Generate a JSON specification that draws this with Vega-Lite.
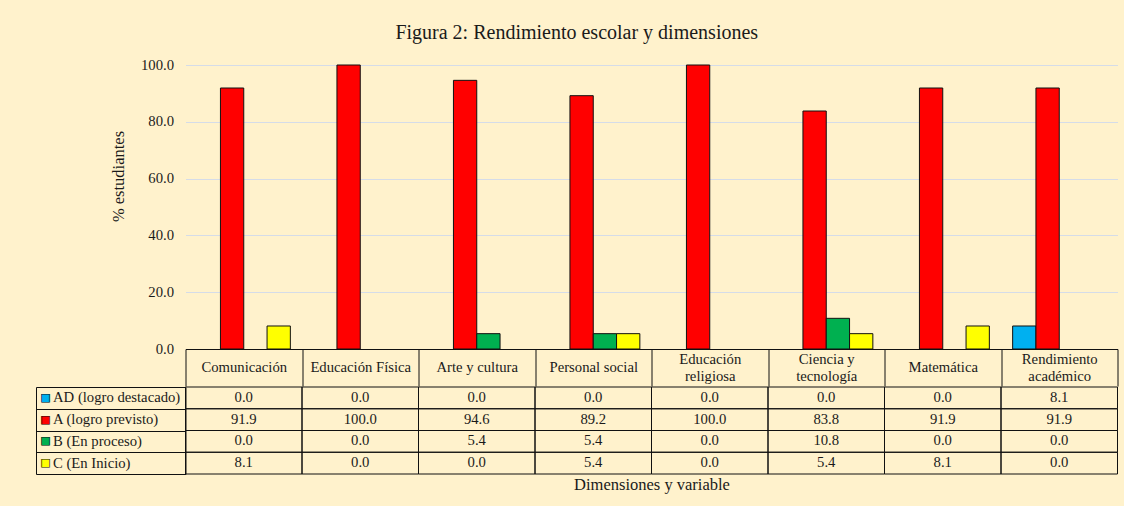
{
  "$schema": "https://vega.github.io/schema/vega-lite/v6.json",
  "background": "#FFF2CC",
  "padding": {"left": 35.5, "top": 23, "right": 7, "bottom": 15},
  "title": {
    "text": "Figura 2: Rendimiento escolar y dimensiones",
    "font": "Liberation Serif",
    "fontSize": 20,
    "fontWeight": "normal",
    "color": "#1a1a1a",
    "anchor": "middle",
    "frame": "bounds",
    "offset": 14
  },
  "datasets": {
    "notas": [
      {"cat": "Comunicación", "level": "AD (logro destacado)", "value": 0.0},
      {"cat": "Comunicación", "level": "A (logro previsto)", "value": 91.9},
      {"cat": "Comunicación", "level": "B (En proceso)", "value": 0.0},
      {"cat": "Comunicación", "level": "C (En Inicio)", "value": 8.1},
      {"cat": "Educación Física", "level": "AD (logro destacado)", "value": 0.0},
      {"cat": "Educación Física", "level": "A (logro previsto)", "value": 100.0},
      {"cat": "Educación Física", "level": "B (En proceso)", "value": 0.0},
      {"cat": "Educación Física", "level": "C (En Inicio)", "value": 0.0},
      {"cat": "Arte y cultura", "level": "AD (logro destacado)", "value": 0.0},
      {"cat": "Arte y cultura", "level": "A (logro previsto)", "value": 94.6},
      {"cat": "Arte y cultura", "level": "B (En proceso)", "value": 5.4},
      {"cat": "Arte y cultura", "level": "C (En Inicio)", "value": 0.0},
      {"cat": "Personal social", "level": "AD (logro destacado)", "value": 0.0},
      {"cat": "Personal social", "level": "A (logro previsto)", "value": 89.2},
      {"cat": "Personal social", "level": "B (En proceso)", "value": 5.4},
      {"cat": "Personal social", "level": "C (En Inicio)", "value": 5.4},
      {"cat": "Educación religiosa", "level": "AD (logro destacado)", "value": 0.0},
      {"cat": "Educación religiosa", "level": "A (logro previsto)", "value": 100.0},
      {"cat": "Educación religiosa", "level": "B (En proceso)", "value": 0.0},
      {"cat": "Educación religiosa", "level": "C (En Inicio)", "value": 0.0},
      {"cat": "Ciencia y tecnología", "level": "AD (logro destacado)", "value": 0.0},
      {"cat": "Ciencia y tecnología", "level": "A (logro previsto)", "value": 83.8},
      {"cat": "Ciencia y tecnología", "level": "B (En proceso)", "value": 10.8},
      {"cat": "Ciencia y tecnología", "level": "C (En Inicio)", "value": 5.4},
      {"cat": "Matemática", "level": "AD (logro destacado)", "value": 0.0},
      {"cat": "Matemática", "level": "A (logro previsto)", "value": 91.9},
      {"cat": "Matemática", "level": "B (En proceso)", "value": 0.0},
      {"cat": "Matemática", "level": "C (En Inicio)", "value": 8.1},
      {"cat": "Rendimiento académico", "level": "AD (logro destacado)", "value": 8.1},
      {"cat": "Rendimiento académico", "level": "A (logro previsto)", "value": 91.9},
      {"cat": "Rendimiento académico", "level": "B (En proceso)", "value": 0.0},
      {"cat": "Rendimiento académico", "level": "C (En Inicio)", "value": 0.0}
    ]
  },
  "data": {"name": "notas"},
  "spacing": -11,
  "vconcat": [
    {
      "width": 932,
      "height": 284,
      "transform": [{"filter": "datum.value > 0"}],
      "mark": {"type": "bar", "stroke": "#111111", "strokeWidth": 1},
      "encoding": {
        "x": {
          "field": "cat",
          "type": "nominal",
          "sort": ["Comunicación", "Educación Física", "Arte y cultura", "Personal social", "Educación religiosa", "Ciencia y tecnología", "Matemática", "Rendimiento académico"],
          "scale": {
            "domain": ["Comunicación", "Educación Física", "Arte y cultura", "Personal social", "Educación religiosa", "Ciencia y tecnología", "Matemática", "Rendimiento académico"],
            "paddingInner": 0,
            "paddingOuter": 0
          },
          "axis": {
            "title": null,
            "orient": "bottom",
            "grid": false,
            "domain": true,
            "domainColor": "#111111",
            "domainWidth": 1,
            "ticks": true,
            "tickBand": "extent",
            "tickSize": 37,
            "tickColor": "#111111",
            "tickWidth": 1,
            "labelAngle": 0,
            "labelAlign": "center",
            "labelBaseline": "middle",
            "labelPadding": -27,
            "labelFont": "Liberation Serif",
            "labelFontSize": 14.7,
            "labelColor": "#1a1a1a",
            "labelLineHeight": 8.5,
            "labelOverlap": false,
            "labelLimit": 0,
            "labelExpr": "length(datum.label) > 16 ? [slice(datum.label, 0, lastindexof(datum.label, ' ')), '\u200b', slice(datum.label, lastindexof(datum.label, ' ') + 1)] : ['\u200b', datum.label]"
          }
        },
        "xOffset": {
          "field": "level",
          "type": "nominal",
          "sort": ["AD (logro destacado)", "A (logro previsto)", "B (En proceso)", "C (En Inicio)"],
          "scale": {
            "domain": ["AD (logro destacado)", "A (logro previsto)", "B (En proceso)", "C (En Inicio)"],
            "paddingInner": 0,
            "paddingOuter": 0.5
          }
        },
        "y": {
          "field": "value",
          "type": "quantitative",
          "scale": {"domain": [0, 100], "nice": false},
          "axis": {
            "title": "% estudiantes",
            "values": [0, 20, 40, 60, 80, 100],
            "format": ".1f",
            "domain": false,
            "ticks": false,
            "grid": true,
            "gridColor": "#D5DCE8",
            "gridWidth": 1,
            "labelPadding": 12,
            "labelFont": "Liberation Serif",
            "labelFontSize": 14.7,
            "labelColor": "#1a1a1a",
            "titleFont": "Liberation Serif",
            "titleFontSize": 16.5,
            "titleFontWeight": "normal",
            "titleColor": "#1a1a1a",
            "titlePadding": 13.5,
            "titleY": 111
          }
        },
        "color": {
          "field": "level",
          "type": "nominal",
          "scale": {
            "domain": ["AD (logro destacado)", "A (logro previsto)", "B (En proceso)", "C (En Inicio)"],
            "range": ["#00B0F0", "#FF0000", "#00B050", "#FFFF00"]
          },
          "legend": null
        }
      }
    },
    {
      "width": 932,
      "height": 87,
      "encoding": {
        "x": {
          "field": "cat",
          "type": "nominal",
          "sort": ["Comunicación", "Educación Física", "Arte y cultura", "Personal social", "Educación religiosa", "Ciencia y tecnología", "Matemática", "Rendimiento académico"],
          "scale": {"paddingInner": 0, "paddingOuter": 0},
          "axis": {
            "title": "Dimensiones y variable",
            "labels": false,
            "ticks": false,
            "domain": false,
            "grid": false,
            "titleFont": "Liberation Serif",
            "titleFontSize": 16.5,
            "titleFontWeight": "normal",
            "titleColor": "#1a1a1a",
            "titlePadding": 2
          }
        }
      },
      "layer": [
        {
          "mark": {"type": "rect", "fill": "transparent", "stroke": "#111111", "strokeWidth": 1},
          "encoding": {
            "y": {
              "field": "level",
              "type": "nominal",
              "sort": ["AD (logro destacado)", "A (logro previsto)", "B (En proceso)", "C (En Inicio)"],
              "scale": {"paddingInner": 0, "paddingOuter": 0},
              "axis": {
                "orient": "left",
                "title": null,
                "grid": false,
                "domain": true,
                "domainColor": "#111111",
                "ticks": true,
                "tickBand": "extent",
                "tickSize": 149.5,
                "tickColor": "#111111",
                "tickWidth": 1,
                "labelAlign": "left",
                "labelBaseline": "middle",
                "labelPadding": -16.5,
                "labelFont": "Liberation Serif",
                "labelFontSize": 14.7,
                "labelColor": "#1a1a1a",
                "labelLimit": 0
              }
            }
          }
        },
        {
          "mark": {"type": "text", "font": "Liberation Serif", "fontSize": 14.7, "color": "#1a1a1a"},
          "encoding": {
            "y": {
              "field": "level",
              "type": "nominal",
              "sort": ["AD (logro destacado)", "A (logro previsto)", "B (En proceso)", "C (En Inicio)"],
              "scale": {"paddingInner": 0, "paddingOuter": 0},
              "axis": {
                "orient": "left",
                "offset": 149.5,
                "title": null,
                "grid": false,
                "domain": true,
                "domainColor": "#111111",
                "ticks": false,
                "labelExpr": "'■'",
                "labelAlign": "center",
                "labelBaseline": "middle",
                "labelPadding": -9,
                "labelFont": "DejaVu Sans",
                "labelFontSize": 11,
                "labelColor": {
                  "condition": [
                    {"test": "datum.value === 'AD (logro destacado)'", "value": "#00B0F0"},
                    {"test": "datum.value === 'A (logro previsto)'", "value": "#FF0000"},
                    {"test": "datum.value === 'B (En proceso)'", "value": "#00B050"}
                  ],
                  "value": "#FFFF00"
                }
              }
            },
            "text": {"field": "value", "type": "quantitative", "format": ".1f"}
          }
        },
        {
          "mark": {"type": "rect", "fill": "transparent", "strokeWidth": 0},
          "encoding": {
            "y": {
              "field": "level",
              "type": "nominal",
              "sort": ["AD (logro destacado)", "A (logro previsto)", "B (En proceso)", "C (En Inicio)"],
              "scale": {"paddingInner": 0, "paddingOuter": 0},
              "axis": {
                "orient": "left",
                "offset": 149.5,
                "title": null,
                "grid": false,
                "domain": false,
                "ticks": false,
                "labelExpr": "'□'",
                "labelAlign": "center",
                "labelBaseline": "middle",
                "labelPadding": -9,
                "labelFont": "DejaVu Sans",
                "labelFontSize": 11,
                "labelColor": "#111111"
              }
            }
          }
        }
      ],
      "resolve": {"axis": {"y": "independent"}}
    }
  ],
  "config": {
    "view": {"stroke": null}
  }
}
